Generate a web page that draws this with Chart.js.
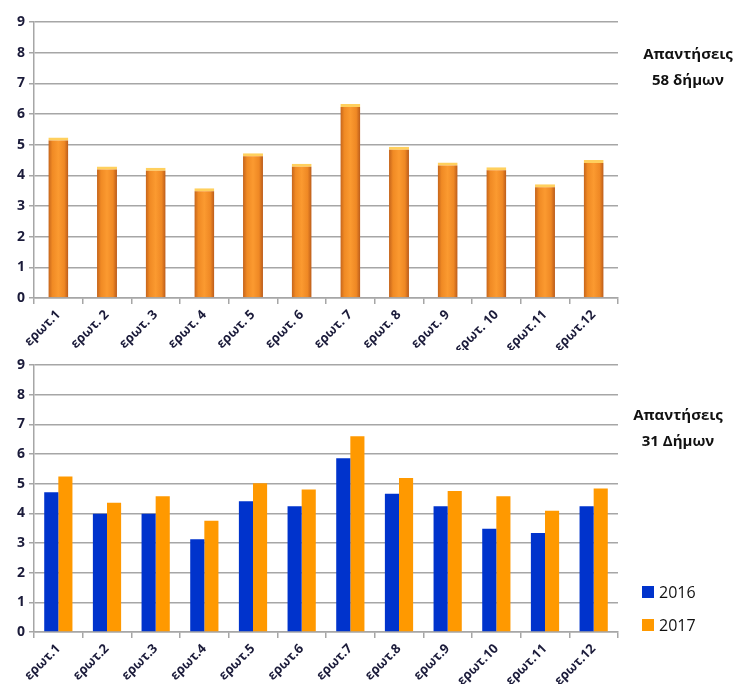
<!DOCTYPE html>
<html>
<head>
<meta charset="utf-8">
<script src="https://cdn.jsdelivr.net/npm/chart.js@4/dist/chart.umd.min.js"></script>
<style>
  body { margin: 0; background: #fff; font-family: "Open Sans", sans-serif; }
  #wrap { position: relative; width: 736px; height: 684px; }
  .box { position: absolute; left: 0; width: 736px; }
  .note { position: absolute; text-align: center; font-weight: bold; font-size: 15px; color: #111; line-height: 26px; }
  .legend { position: absolute; left: 642px; top: 575px; font-size: 16px; color: #111; }
  .legend div { display: flex; align-items: center; height: 33px; }
  .legend span { display: inline-block; width: 12px; height: 12px; margin-right: 5px; }
</style>
</head>
<body>
<div id="wrap">
  <div class="box" style="top:0;height:350px"><canvas id="top"></canvas></div>
  <div class="box" style="top:350px;height:334px"><canvas id="bottom"></canvas></div>
  <div class="note" style="left:636px;top:40px;width:104px">Απαντήσεις<br>58 δήμων</div>
  <div class="note" style="left:626px;top:401px;width:104px">Απαντήσεις<br>31 Δήμων</div>
  <div class="legend">
    <div><span style="background:#0033cc"></span>2016</div>
    <div><span style="background:#ff9900"></span>2017</div>
  </div>
</div>
<script>
const topLabels = ["ερωτ.1", "ερωτ. 2", "ερωτ. 3", "ερωτ. 4", "ερωτ. 5", "ερωτ. 6",
  "ερωτ. 7", "ερωτ. 8", "ερωτ. 9", "ερωτ. 10", "ερωτ.11", "ερωτ.12"];
const topValues = [5.23, 4.29, 4.25, 3.58, 4.72, 4.38, 6.33, 4.93, 4.42, 4.26, 3.71, 4.5];

const bottomLabels = ["ερωτ.1", "ερωτ.2", "ερωτ.3", "ερωτ.4", "ερωτ.5", "ερωτ.6",
  "ερωτ.7", "ερωτ.8", "ερωτ.9", "ερωτ.10", "ερωτ.11", "ερωτ.12"];
const values2016 = [4.71, 3.99, 3.99, 3.13, 4.41, 4.24, 5.86, 4.66, 4.24, 3.48, 3.34, 4.24];
const values2017 = [5.24, 4.36, 4.58, 3.75, 5.01, 4.8, 6.6, 5.19, 4.75, 4.58, 4.09, 4.84];

const yTicks = [0, 1, 2, 3, 4, 5, 6, 7, 8, 9];

Chart.defaults.font.family = "'Open Sans', sans-serif";
Chart.defaults.animation = false;

// horizontal shading so the top bars look rounded like the original
function orangeBar(ctx) {
    const chart = ctx.chart;
    if (!chart.chartArea) {
        return "#f7941d";
    }
    const x = chart.scales.x.getPixelForValue(ctx.dataIndex);
    const half = 10;
    const g = chart.ctx.createLinearGradient(x - half, 0, x + half, 0);
    g.addColorStop(0, "#c4631b");
    g.addColorStop(0.2, "#f08a24");
    g.addColorStop(0.5, "#fb9a30");
    g.addColorStop(0.8, "#ef8824");
    g.addColorStop(1, "#b95a1a");
    return g;
}

function scales(xHeight) {
    return {
        x: {
            grid: { display: true, drawOnChartArea: false, tickLength: 6, color: "#a6a6a6", lineWidth: 1.5 },
            border: { color: "#a6a6a6", width: 1.5 },
            ticks: {
                color: "#1b1b3a",
                font: { size: 13, weight: "bold" },
                maxRotation: 45,
                minRotation: 45,
                padding: 3,
            },
            afterFit: (s) => { s.height = xHeight; },
        },
        y: {
            min: 0,
            max: 9,
            afterBuildTicks: (s) => { s.ticks = yTicks.map((v) => ({ value: v })); },
            grid: { color: "#a6a6a6", lineWidth: 1.5, tickLength: 5 },
            border: { color: "#a6a6a6", width: 1.5 },
            ticks: {
                color: "#1b1b3a",
                font: { size: 14, weight: "bold" },
                padding: 4,
            },
            afterFit: (s) => { s.width = 34; },
        },
    };
}

new Chart(document.getElementById("top"), {
    type: "bar",
    data: {
        labels: topLabels,
        datasets: [{
            data: topValues,
            backgroundColor: orangeBar,
            borderColor: "#ffd05e",
            borderWidth: { top: 3, left: 0, right: 0, bottom: 0 },
            borderSkipped: false,
            barPercentage: 0.41,
            categoryPercentage: 1,
        }],
    },
    options: {
        responsive: true,
        maintainAspectRatio: false,
        layout: { padding: { top: 22, right: 118, bottom: 0, left: 0 } },
        plugins: { legend: { display: false }, tooltip: { enabled: false } },
        scales: scales(52),
    },
});

new Chart(document.getElementById("bottom"), {
    type: "bar",
    data: {
        labels: bottomLabels,
        datasets: [
            { label: "2016", data: values2016, backgroundColor: "#0033cc", barPercentage: 1, categoryPercentage: 0.58 },
            { label: "2017", data: values2017, backgroundColor: "#ff9900", barPercentage: 1, categoryPercentage: 0.58 },
        ],
    },
    options: {
        responsive: true,
        maintainAspectRatio: false,
        layout: { padding: { top: 15, right: 118, bottom: 0, left: 0 } },
        plugins: { legend: { display: false }, tooltip: { enabled: false } },
        scales: scales(52),
    },
});
</script>
</body>
</html>
